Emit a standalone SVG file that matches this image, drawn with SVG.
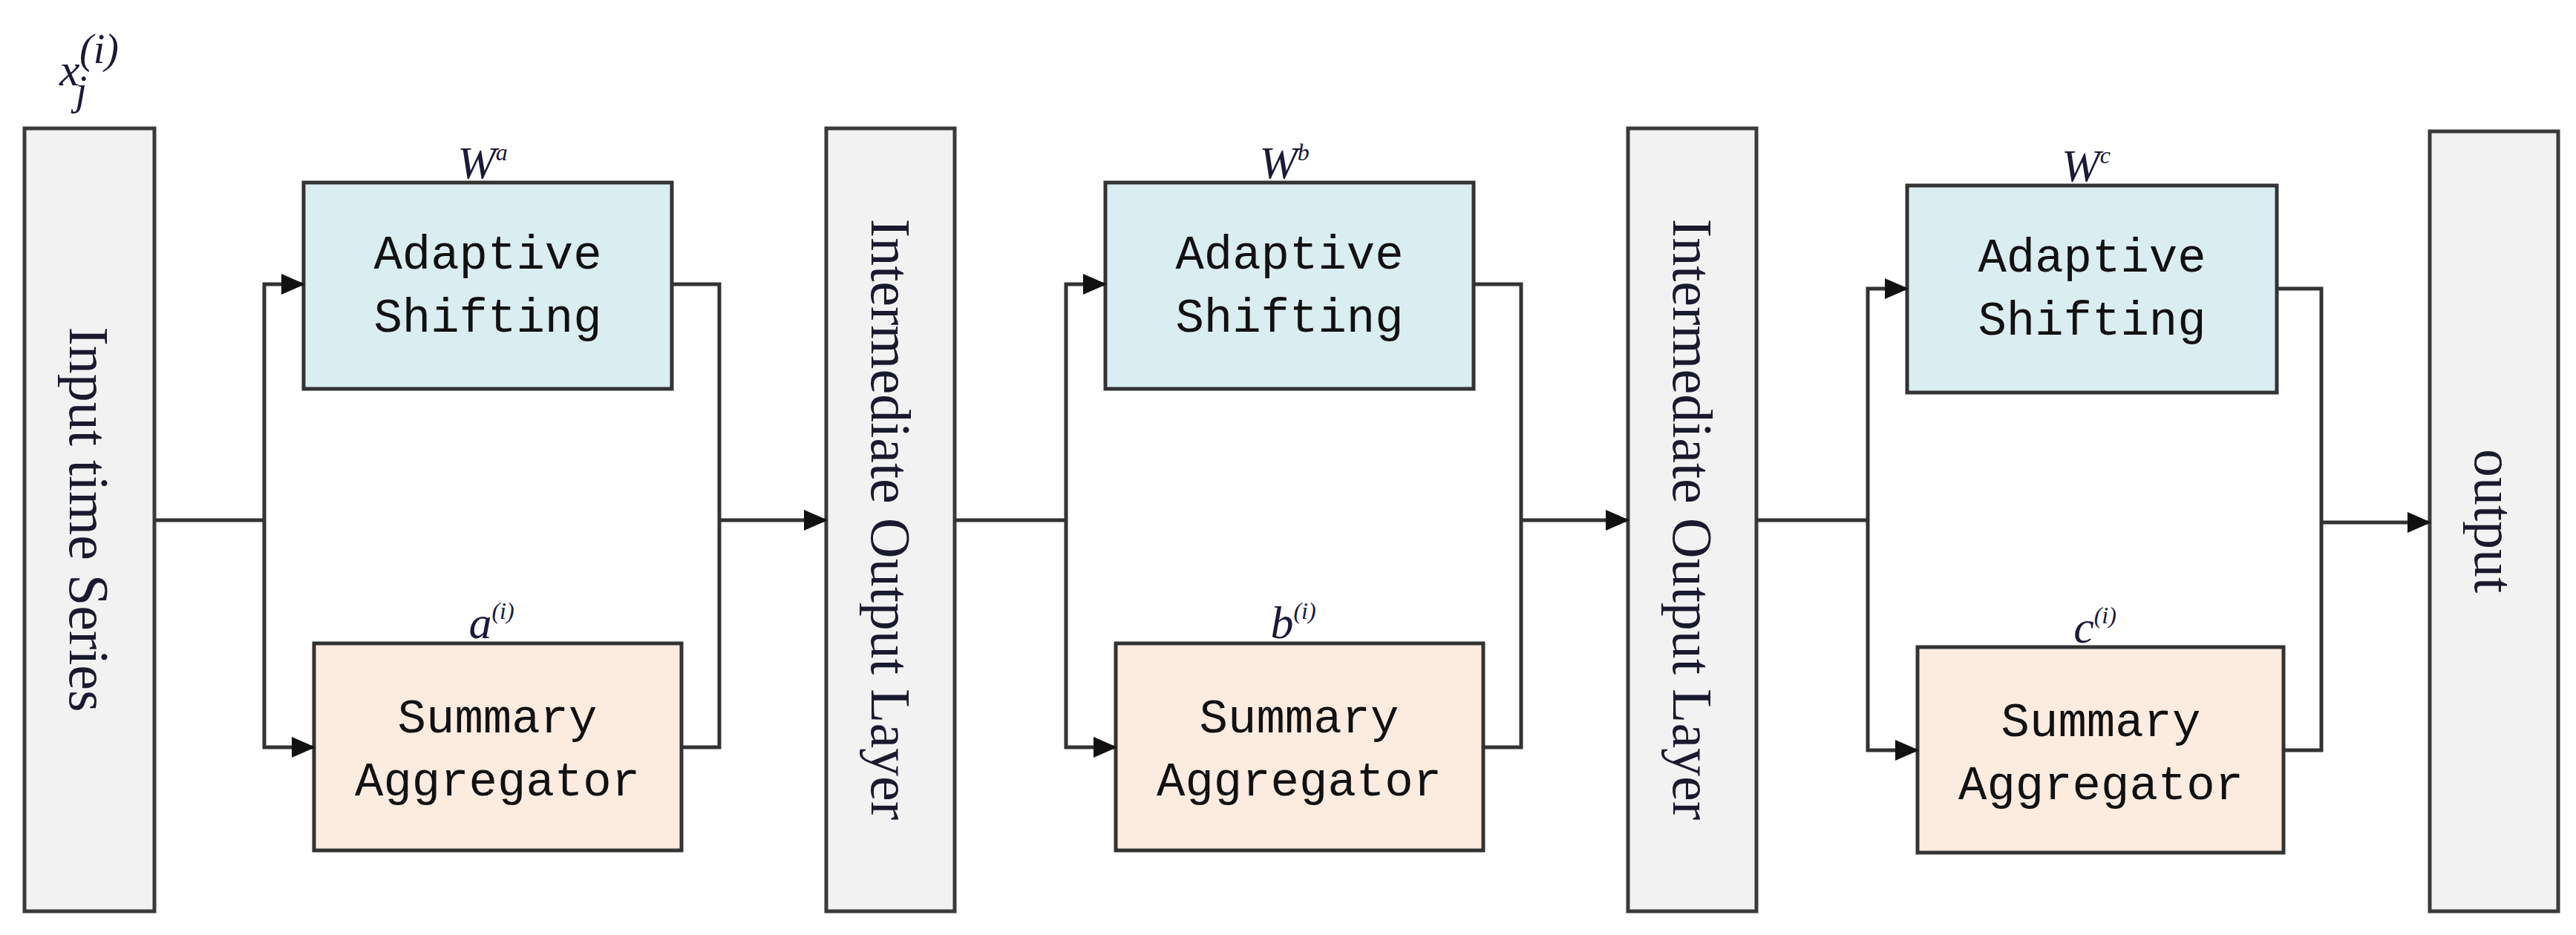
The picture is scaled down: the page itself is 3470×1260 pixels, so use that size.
<svg xmlns="http://www.w3.org/2000/svg" width="3470" height="1260" viewBox="0 0 3470 1260">
<style>
.bar{fill:#f2f2f2;stroke:#3a3a3a;stroke-width:5}
.as{fill:#daedf0;stroke:#333;stroke-width:5}
.sa{fill:#fcebdf;stroke:#333;stroke-width:5}
.bt{font-family:"Liberation Mono",monospace;font-size:64px;fill:#111;text-anchor:middle}
.vt{font-family:"Liberation Serif",serif;font-size:76px;fill:#1a1a2e;text-anchor:middle}
.m{font-family:"Liberation Serif",serif;font-style:italic;font-size:62px;fill:#1a1a3a;text-anchor:middle}
.c{fill:none;stroke:#333;stroke-width:5}
</style>
<defs><marker id="a" markerWidth="32" markerHeight="32" refX="30" refY="16" orient="auto" markerUnits="userSpaceOnUse"><path d="M0,2L32,16L0,30z" fill="#111"/></marker></defs>
<g id="input"><rect class="bar" x="33" y="173" width="175" height="1055"/><text class="vt" transform="translate(94,700) rotate(90)">Input time Series</text></g>
<text class="m" x="120" y="115" font-size="90">x<tspan font-size="56" dy="26" dx="-6">j</tspan><tspan font-size="56" dy="-56" dx="-10">(i)</tspan></text>
<g id="inter1"><rect class="bar" x="1113" y="173" width="173" height="1055"/><text class="vt" transform="translate(1174,700) rotate(90)">Intermediate Output Layer</text></g>
<g id="inter2"><rect class="bar" x="2193" y="173" width="173" height="1055"/><text class="vt" transform="translate(2254,700) rotate(90)">Intermediate Output Layer</text></g>
<g id="output"><rect class="bar" x="3273" y="177" width="173" height="1051"/><text class="vt" transform="translate(3334,702) rotate(90)">output</text></g>
<g id="as1"><rect class="as" x="409" y="246" width="496" height="278"/><text class="bt" x="657" y="362">Adaptive</text><text class="bt" x="657" y="447">Shifting</text></g>
<g id="sa1"><rect class="sa" x="423" y="867" width="495" height="279"/><text class="bt" x="670" y="987">Summary</text><text class="bt" x="670" y="1072">Aggregator</text></g>
<g id="as2"><rect class="as" x="1489" y="246" width="496" height="278"/><text class="bt" x="1737" y="362">Adaptive</text><text class="bt" x="1737" y="447">Shifting</text></g>
<g id="sa2"><rect class="sa" x="1503" y="867" width="495" height="279"/><text class="bt" x="1750" y="987">Summary</text><text class="bt" x="1750" y="1072">Aggregator</text></g>
<g id="as3"><rect class="as" x="2569" y="250" width="498" height="279"/><text class="bt" x="2818" y="366">Adaptive</text><text class="bt" x="2818" y="451">Shifting</text></g>
<g id="sa3"><rect class="sa" x="2583" y="872" width="493" height="277"/><text class="bt" x="2830" y="992">Summary</text><text class="bt" x="2830" y="1077">Aggregator</text></g>
<g id="labels">
<text class="m" x="650" y="240">W<tspan font-size="32" dy="-24">a</tspan></text>
<text class="m" x="662" y="860">a<tspan font-size="32" dy="-26">(i)</tspan></text>
<text class="m" x="1730" y="240">W<tspan font-size="32" dy="-24">b</tspan></text>
<text class="m" x="1742" y="860">b<tspan font-size="32" dy="-26">(i)</tspan></text>
<text class="m" x="2810" y="244">W<tspan font-size="32" dy="-24">c</tspan></text>
<text class="m" x="2822" y="866">c<tspan font-size="32" dy="-26">(i)</tspan></text>
</g>
<g id="connectors">
<path class="c" d="M208,701H356"/><path class="c" d="M356,701V383H409" marker-end="url(#a)"/><path class="c" d="M356,701V1007H423" marker-end="url(#a)"/>
<path class="c" d="M905,383H969V1007H918M969,701H1113" marker-end="url(#a)"/>
<path class="c" d="M1286,701H1436"/><path class="c" d="M1436,701V383H1489" marker-end="url(#a)"/><path class="c" d="M1436,701V1007H1503" marker-end="url(#a)"/>
<path class="c" d="M1985,383H2049V1007H1998M2049,701H2193" marker-end="url(#a)"/>
<path class="c" d="M2366,701H2516"/><path class="c" d="M2516,701V389H2569" marker-end="url(#a)"/><path class="c" d="M2516,701V1011H2583" marker-end="url(#a)"/>
<path class="c" d="M3067,389H3127V1011H3076M3127,704H3273" marker-end="url(#a)"/>
</g>
</svg>
